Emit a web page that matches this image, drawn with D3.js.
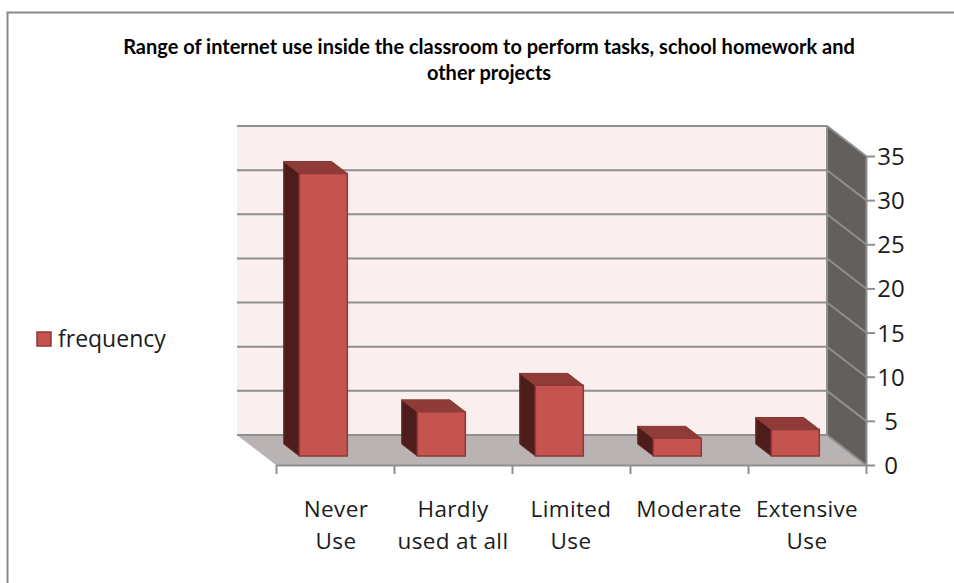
<!DOCTYPE html>
<html><head><meta charset="utf-8">
<script src="https://cdn.jsdelivr.net/npm/d3@7"></script>
<style>html,body{margin:0;padding:0;background:#fff}svg{display:block}</style>
</head><body><svg id="c" width="954" height="583"></svg>
<script>
const categories = [["Never","Use"],["Hardly","used at all"],["Limited","Use"],["Moderate"],["Extensive","Use"]];
const frequency = [32,5,8,2,3];
const yTicks = [0,5,10,15,20,25,30,35];
const titleLines = ["Range of internet use inside the classroom to perform tasks, school homework and","other projects"];
const seriesName = "frequency";

const svg = d3.select("#c");
const W=954,H=583;
const x = d3.scaleBand().domain(d3.range(categories.length)).range([276,866]).paddingInner(0).paddingOuter(0);
const y = d3.scaleLinear().domain([0,35]).range([465,156]);
const depthX = d3.scaleLinear().domain([0,1]).range([0,-39]);
const depthY = d3.scaleLinear().domain([0,1]).range([0,-30]);
const P = (px,v,d)=>[px+depthX(d), y(v)+depthY(d)];
const poly = pts => "M"+pts.map(p=>p.join(",")).join("L")+"Z";
const [xL,xR]=x.range();
const gridC="#8f8f8f", sw=2;

svg.append("rect").attr("width",W).attr("height",H).attr("fill","#fff");
// outer border
svg.append("path").attr("d",`M7.5,583V12.5H954`).attr("fill","none").attr("stroke","#8a8a8a").attr("stroke-width",2);

const g = svg.append("g").attr("filter","url(#soft)");
const defs = svg.append("defs");
defs.append("filter").attr("id","soft").attr("x","-5%").attr("y","-5%").attr("width","110%").attr("height","110%")
  .append("feGaussianBlur").attr("stdDeviation",0.45);

// back wall
g.append("path").attr("d",poly([P(xL,0,1),P(xR,0,1),P(xR,35,1),P(xL,35,1)])).attr("fill","#faeeee");
// side wall
g.append("path").attr("d",poly([P(xR,0,1),P(xR,0,0),P(xR,35,0),P(xR,35,1)])).attr("fill","#625e5c");
// floor
g.append("path").attr("d",poly([P(xL,0,1),P(xR,0,1),P(xR,0,0),P(xL,0,0)])).attr("fill","#b9b3b3");
// grid
yTicks.forEach(t=>{
  g.append("path").attr("d","M"+[P(xL,t,1),P(xR,t,1),P(xR,t,0)].map(p=>p.join(",")).join("L"))
   .attr("fill","none").attr("stroke",gridC).attr("stroke-width",sw);
});
g.append("line").attr("x1",P(xR,0,1)[0]).attr("x2",P(xR,35,1)[0]).attr("y1",P(xR,0,1)[1]).attr("y2",P(xR,35,1)[1]).attr("stroke",gridC).attr("stroke-width",sw);

// axes
const axisLine = (sel)=>{sel.selectAll(".domain,.tick line").attr("stroke",gridC).attr("stroke-width",sw);sel.selectAll("text").remove();};
const xTickScale = d3.scaleLinear().domain([0,categories.length]).range(x.range());
g.append("g").attr("transform",`translate(0,${y(0)})`).call(d3.axisBottom(xTickScale).tickValues(d3.range(categories.length+1)).tickSize(9).tickSizeOuter(0)).call(axisLine);
g.append("g").attr("transform",`translate(${xR},0)`).call(d3.axisRight(y).tickValues(yTicks).tickSize(9).tickSizeOuter(0)).call(axisLine);

// bars
const d0=0.3,d1=0.7;
const barW=48, off=35;
const bars = g.selectAll("g.bar").data(frequency).join("g").attr("class","bar");
const s="#8c3a38";
bars.append("path").attr("d",(v,i)=>{const a=x(i)+off;return poly([P(a,0,d0),P(a,0,d1),P(a,v,d1),P(a,v,d0)]);}).attr("fill","#4f1e1c").attr("stroke","#6b2b29").attr("stroke-width",1);
bars.append("path").attr("d",(v,i)=>{const a=x(i)+off,b=a+barW;return poly([P(a,v,d0),P(a,v,d1),P(b,v,d1),P(b,v,d0)]);}).attr("fill","#8f3b38").attr("stroke","#8a3836").attr("stroke-width",1);
bars.append("path").attr("d",(v,i)=>{const a=x(i)+off,b=a+barW;return poly([P(a,0,d0),P(b,0,d0),P(b,v,d0),P(a,v,d0)]);}).attr("fill","#c5524f").attr("stroke",s).attr("stroke-width",1.5);

// text
const font="'Open Sans','Noto Sans',sans-serif";
const tx = svg.append("g").attr("font-family",font).attr("fill","#1c1c1c");
tx.selectAll("text.t").data(titleLines).join("text").attr("class","t")
  .attr("x",489).attr("y",(d,i)=>54+i*26).attr("text-anchor","middle")
  .attr("font-family","Lato,'Open Sans',sans-serif")
  .attr("font-size",20).attr("font-weight",700).attr("fill","#000").text(d=>d);
tx.selectAll("text.yl").data(yTicks).join("text").attr("class","yl")
  .attr("x",891).attr("y",d=>y(d)+9).attr("text-anchor","middle").attr("font-size",24).text(d=>d);
categories.forEach((c,i)=>{
  c.forEach((l,j)=>{
    tx.append("text").attr("x",x(i)+x.bandwidth()/2+(i==0?1:0)).attr("y",517+j*32).attr("text-anchor","middle")
      .attr("font-size",22.5).attr("letter-spacing",0.35).text(l);
  });
});
// legend
svg.append("rect").attr("x",37).attr("y",332).attr("width",14).attr("height",14).attr("fill","#c5524f").attr("stroke",s).attr("stroke-width",1.5);
tx.append("text").attr("x",58).attr("y",347).attr("font-size",23).text(seriesName);
</script></body></html>
